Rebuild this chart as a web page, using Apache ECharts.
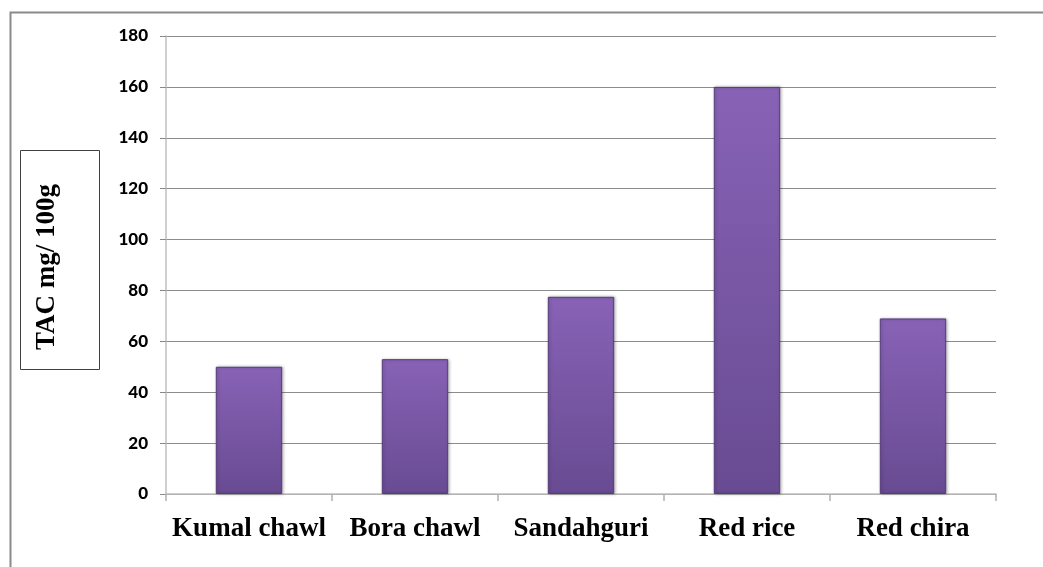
<!DOCTYPE html>
<html>
<head>
<meta charset="utf-8">
<script src="https://cdn.jsdelivr.net/npm/echarts@6/dist/echarts.min.js"></script>
<style>
html,body{margin:0;padding:0;background:#fff;}
#chart{width:1043px;height:567px;}
</style>
</head>
<body>
<div id="chart"></div>
<script>
const categories = ['Kumal chawl', 'Bora chawl', 'Sandahguri', 'Red rice', 'Red chira'];
const tacValues = [50, 53, 77.5, 160, 69];
const yTicks = { min: 0, max: 180, interval: 20 };
const yAxisTitle = 'TAC mg/ 100g';

const chart = echarts.init(document.getElementById('chart'), null, { renderer: 'canvas' });
chart.setOption({
  backgroundColor: '#ffffff',
  animation: false,
  grid: { left: 166, top: 36, right: 47, bottom: 73, containLabel: false },
  graphic: [
    { type: 'rect', left: 8, top: 10, shape: { width: 1100, height: 620 },
      style: { fill: 'none', stroke: '#8a8a8a', lineWidth: 2 }, z: 0 },
    { type: 'rect', left: 20, top: 150, shape: { width: 79, height: 219 },
      style: { fill: '#fff', stroke: '#404040', lineWidth: 1 }, z: 10 },
    { type: 'text', x: 47, y: 267, rotation: Math.PI / 2,
      style: { text: yAxisTitle, font: 'bold 27px "Liberation Serif", "DejaVu Serif", serif',
               fill: '#000', align: 'center', verticalAlign: 'middle' }, z: 11 }
  ],
  xAxis: {
    type: 'category',
    data: categories,
    axisLine: { lineStyle: { color: '#c0c0c0', width: 1.5 } },
    axisTick: { show: true, interval: 0, length: 7, lineStyle: { color: '#b0b0b0', width: 1.5 } },
    axisLabel: { interval: 0, hideOverlap: false, color: '#000', margin: 22,
      fontFamily: '"Liberation Serif", "DejaVu Serif", serif', fontWeight: 'bold', fontSize: 27 }
  },
  yAxis: {
    type: 'value',
    min: yTicks.min, max: yTicks.max, interval: yTicks.interval,
    axisLine: { show: true, lineStyle: { color: '#c0c0c0', width: 1.5 } },
    axisTick: { show: true, length: 6, lineStyle: { color: '#8a8a8a', width: 1 } },
    splitLine: { lineStyle: { color: '#8c8c8c', width: 1 } },
    axisLabel: { color: '#000', margin: 18,
      fontFamily: 'Lato, "Open Sans", sans-serif', fontWeight: 900, fontSize: 17 }
  },
  series: [{
    type: 'bar',
    data: tacValues,
    barWidth: '40%',
    itemStyle: {
      color: new echarts.graphic.LinearGradient(0, 0, 0, 1, [
        { offset: 0, color: '#8862b6' },
        { offset: 1, color: '#684b92' }
      ]),
      borderColor: '#563b7c',
      borderWidth: 1,
      shadowColor: 'rgba(0,0,0,0.25)',
      shadowBlur: 3,
      shadowOffsetX: 1
    }
  }]
});
</script>
</body>
</html>
